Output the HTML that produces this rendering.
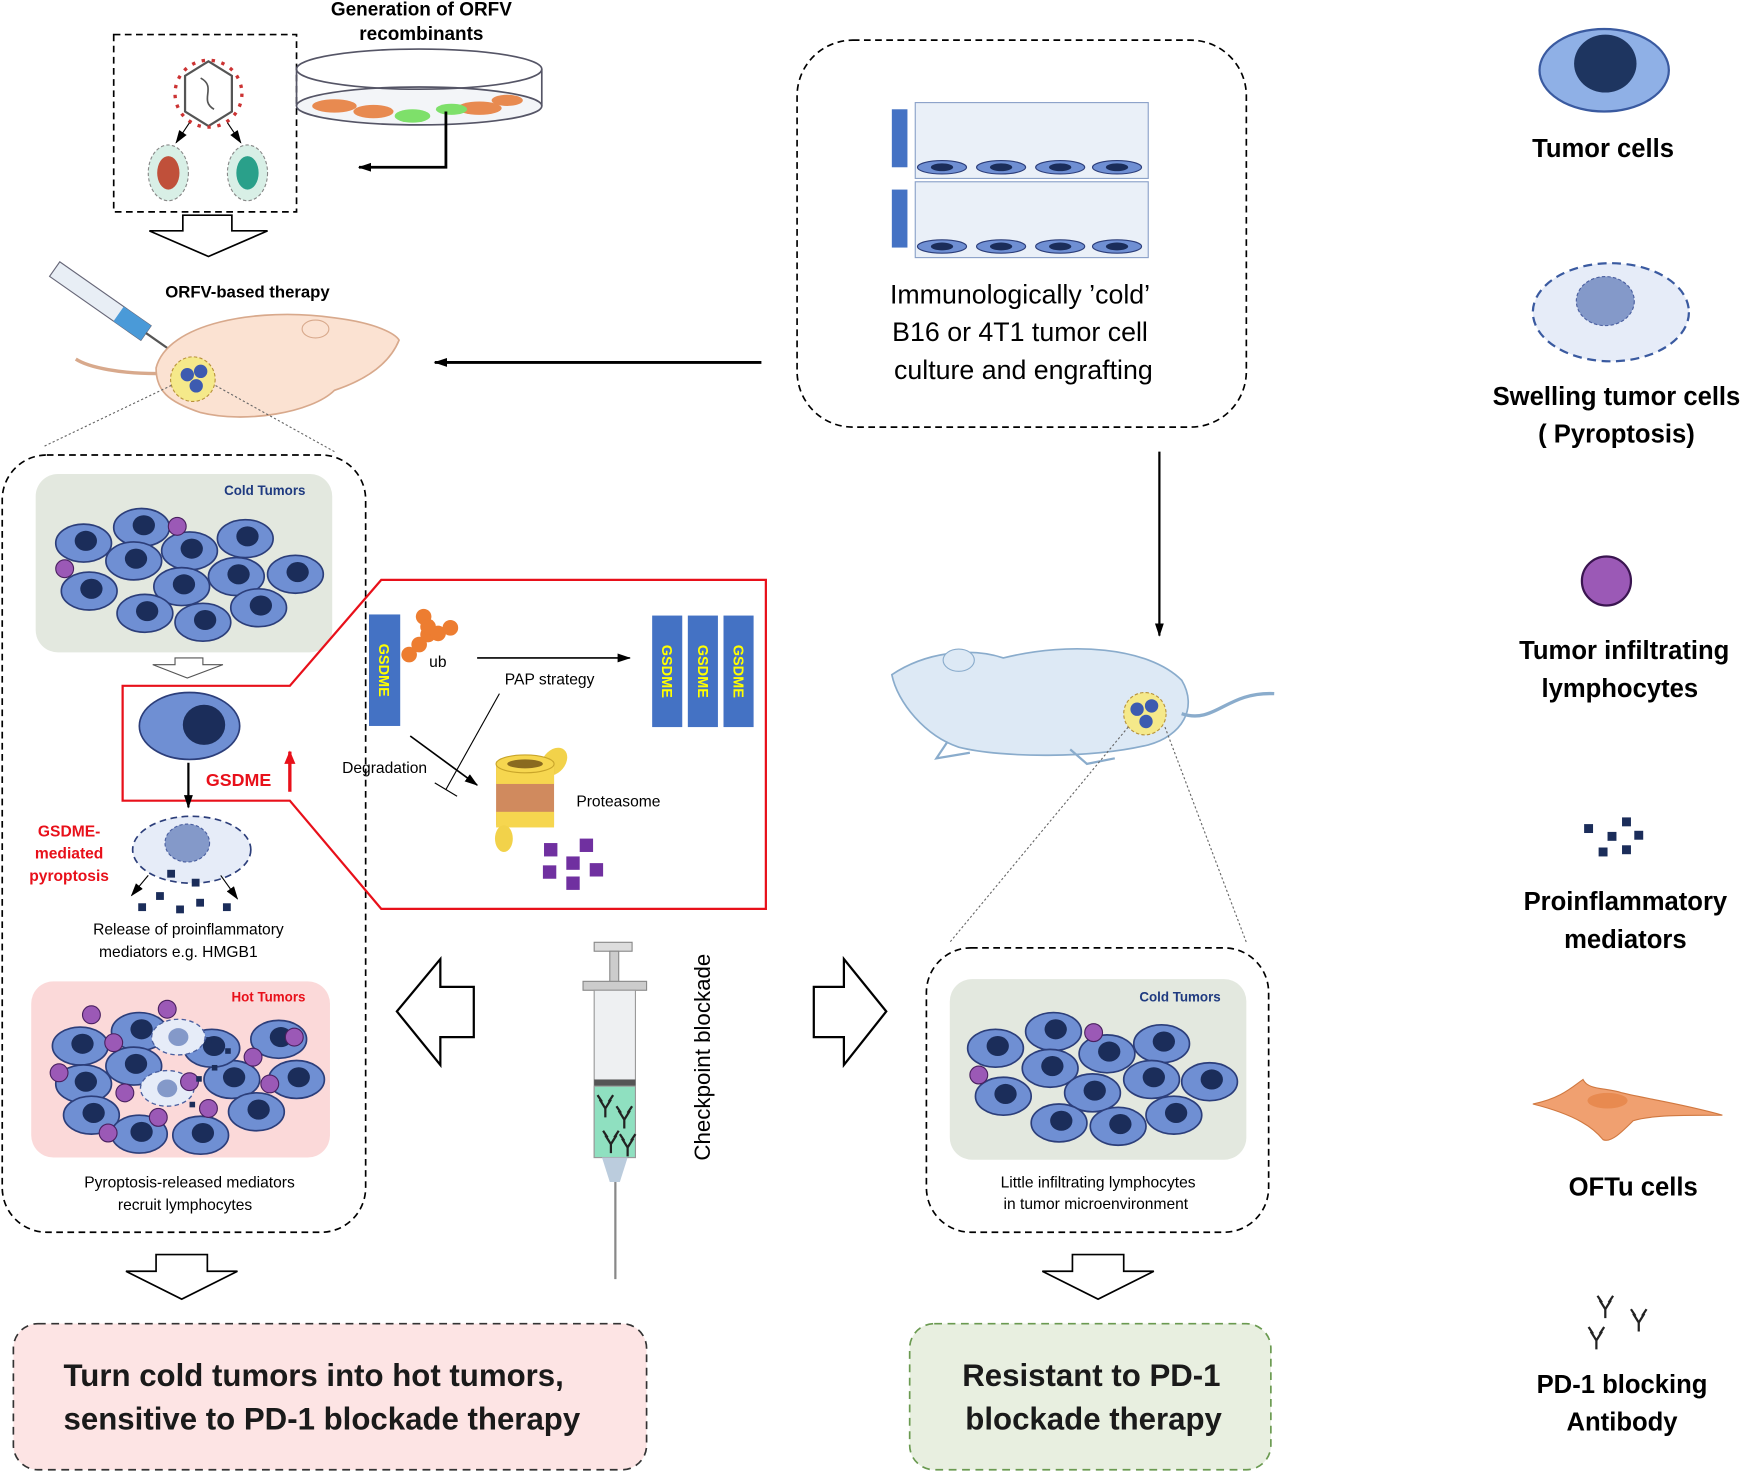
<!DOCTYPE html>
<html><head><meta charset="utf-8"><style>html,body{margin:0;padding:0;background:#fff}svg{display:block}text{font-family:"Liberation Sans",sans-serif}</style></head><body>
<svg width="1748" height="1472" viewBox="0 0 1568 1320" preserveAspectRatio="none" xmlns="http://www.w3.org/2000/svg">
<defs>
<marker id="ah" markerUnits="userSpaceOnUse" markerWidth="12" markerHeight="10" refX="11" refY="5" orient="auto"><path d="M0,1 L12,5 L0,9 z" fill="#000"/></marker>
<marker id="ahr" markerUnits="userSpaceOnUse" markerWidth="12" markerHeight="12" refX="11" refY="6" orient="auto"><path d="M0,1 L12,6 L0,11 z" fill="#e8101a"/></marker>
<g id="cell"><ellipse rx="25" ry="17" fill="#6f8fd3" stroke="#2c3e7a" stroke-width="1.5"/><ellipse cx="2" cy="-2" rx="10" ry="9" fill="#1b2d5a"/></g>
<g id="pcell"><ellipse rx="24" ry="16" fill="#e6ecf8" stroke="#4a5fa0" stroke-width="1.2" stroke-dasharray="4,3"/><ellipse rx="9" ry="8" fill="#8499c9"/></g>
<g id="ab" stroke="#222" stroke-width="2" fill="none"><path d="M0,12 L0,4 L-5,-4 M0,4 L5,-4 M-3,-2 L-7,-8 M3,-2 L7,-8"/></g>
</defs>

<rect x="102" y="31" width="164" height="159" fill="none" stroke="#000" stroke-width="1.5" stroke-dasharray="6,4"/>
<polygon points="187,55 208,68 208,100 187,113 166,100 166,68" fill="#fff" stroke="#555" stroke-width="2"/>
<circle cx="187" cy="84" r="30" fill="none" stroke="#c33" stroke-width="3" stroke-dasharray="3,6"/>
<path d="M180,70 C195,78 178,90 192,98" stroke="#555" fill="none" stroke-width="1.5"/>
<ellipse cx="151" cy="155" rx="18" ry="25" fill="#d8efe6" stroke="#888" stroke-dasharray="3,2"/>
<ellipse cx="151" cy="155" rx="10" ry="15" fill="#c0503a"/>
<ellipse cx="222" cy="155" rx="18" ry="25" fill="#d8efe6" stroke="#888" stroke-dasharray="3,2"/>
<ellipse cx="222" cy="155" rx="10" ry="15" fill="#2aa08a"/>
<line x1="170" y1="110" x2="158" y2="128" stroke="#000" marker-end="url(#ah)"/>
<line x1="204" y1="110" x2="216" y2="128" stroke="#000" marker-end="url(#ah)"/>

<text x="378" y="14" font-size="17" font-weight="bold" text-anchor="middle">Generation of ORFV</text>
<text x="378" y="36" font-size="17" font-weight="bold" text-anchor="middle">recombinants</text>
<ellipse cx="376" cy="95" rx="110" ry="17" fill="#f3f5f8" stroke="#556" stroke-width="1.5"/>
<path d="M266,62 L266,95 M486,62 L486,95" stroke="#556" stroke-width="1.5"/>
<ellipse cx="376" cy="62" rx="110" ry="18" fill="none" stroke="#556" stroke-width="1.5"/>
<g fill="#e88a50"><ellipse cx="300" cy="95" rx="20" ry="6"/><ellipse cx="335" cy="100" rx="18" ry="6"/><ellipse cx="430" cy="97" rx="20" ry="6"/><ellipse cx="455" cy="90" rx="14" ry="5"/></g>
<g fill="#7ee06a"><ellipse cx="370" cy="104" rx="16" ry="6"/><ellipse cx="405" cy="98" rx="14" ry="5"/></g>
<path d="M400,100 L400,150 L322,150" stroke="#000" stroke-width="2.5" fill="none" marker-end="url(#ah)"/>
<polygon points="134,207 164,207 164,193 208,193 208,207 240,207 187,230" fill="#fff" stroke="#000" stroke-width="1.5"/>

<text x="222" y="267" font-size="15" font-weight="bold" text-anchor="middle">ORFV-based therapy</text>
<g transform="rotate(35 90 270)"><rect x="40" y="262" width="100" height="16" fill="#e8eef5" stroke="#667"/><rect x="110" y="262" width="30" height="16" fill="#4a9ad8"/><line x1="140" y1="270" x2="170" y2="270" stroke="#555" stroke-width="2"/></g>
<path d="M140,330 C150,290 230,275 300,285 C340,290 355,300 358,305 C350,325 330,340 300,350 C280,370 220,380 180,370 C150,360 140,350 140,330 Z" fill="#fbe2d2" stroke="#d8a98c" stroke-width="1.5"/>
<path d="M140,335 C110,335 80,330 68,322" stroke="#d8a98c" stroke-width="3" fill="none"/>
<ellipse cx="283" cy="295" rx="12" ry="8" fill="#fbe2d2" stroke="#d8a98c"/>
<circle cx="173" cy="340" r="20" fill="#f5e98a" stroke="#b8923a" stroke-dasharray="3,2"/>
<g fill="#3d5bb0"><circle cx="168" cy="336" r="6"/><circle cx="180" cy="333" r="6"/><circle cx="176" cy="346" r="6"/></g>
<line x1="40" y1="400" x2="155" y2="345" stroke="#666" stroke-dasharray="2,2"/>
<line x1="300" y1="405" x2="192" y2="345" stroke="#666" stroke-dasharray="2,2"/>

<line x1="683" y1="325" x2="390" y2="325" stroke="#000" stroke-width="2.5" marker-end="url(#ah)"/>

<rect x="715" y="36" width="403" height="347" rx="50" fill="none" stroke="#000" stroke-width="1.5" stroke-dasharray="6,4"/>
<g>
<rect x="821" y="92" width="209" height="68" fill="#eaf0f8" stroke="#8aa0c8"/>
<rect x="800" y="98" width="14" height="52" fill="#4472c4"/>
<rect x="821" y="163" width="209" height="68" fill="#eaf0f8" stroke="#8aa0c8"/>
<rect x="800" y="170" width="14" height="52" fill="#4472c4"/>
<g transform="translate(845,150)"><ellipse rx="22" ry="6" fill="#6f8fd3" stroke="#2c3e7a"/><ellipse rx="10" ry="3.5" fill="#1b2d5a"/></g>
<g transform="translate(898,150)"><ellipse rx="22" ry="6" fill="#6f8fd3" stroke="#2c3e7a"/><ellipse rx="10" ry="3.5" fill="#1b2d5a"/></g>
<g transform="translate(951,150)"><ellipse rx="22" ry="6" fill="#6f8fd3" stroke="#2c3e7a"/><ellipse rx="10" ry="3.5" fill="#1b2d5a"/></g>
<g transform="translate(1002,150)"><ellipse rx="22" ry="6" fill="#6f8fd3" stroke="#2c3e7a"/><ellipse rx="10" ry="3.5" fill="#1b2d5a"/></g>
<g transform="translate(845,221)"><ellipse rx="22" ry="6" fill="#6f8fd3" stroke="#2c3e7a"/><ellipse rx="10" ry="3.5" fill="#1b2d5a"/></g>
<g transform="translate(898,221)"><ellipse rx="22" ry="6" fill="#6f8fd3" stroke="#2c3e7a"/><ellipse rx="10" ry="3.5" fill="#1b2d5a"/></g>
<g transform="translate(951,221)"><ellipse rx="22" ry="6" fill="#6f8fd3" stroke="#2c3e7a"/><ellipse rx="10" ry="3.5" fill="#1b2d5a"/></g>
<g transform="translate(1002,221)"><ellipse rx="22" ry="6" fill="#6f8fd3" stroke="#2c3e7a"/><ellipse rx="10" ry="3.5" fill="#1b2d5a"/></g>
</g>
<text font-size="24" text-anchor="middle"><tspan x="915" y="272">Immunologically ’cold’</tspan><tspan x="915" y="306">B16 or 4T1 tumor cell</tspan><tspan x="918" y="340">culture and engrafting</tspan></text>
<line x1="1040" y1="405" x2="1040" y2="570" stroke="#000" stroke-width="2" marker-end="url(#ah)"/>

<path d="M800,605 C830,585 870,580 900,590 C960,575 1030,580 1060,610 C1075,635 1060,660 1030,668 C980,680 900,680 860,670 C830,660 805,630 800,605 Z" fill="#dde9f5" stroke="#8aaccc" stroke-width="1.5"/>
<path d="M1060,640 C1090,650 1100,620 1143,622" stroke="#8aaccc" stroke-width="3" fill="none"/>
<ellipse cx="860" cy="592" rx="14" ry="10" fill="#dde9f5" stroke="#8aaccc"/>
<path d="M850,665 L840,680 L870,675 M960,672 L975,685 L1000,680" stroke="#8aaccc" stroke-width="2" fill="none"/>
<circle cx="1027" cy="640" r="19" fill="#f5e98a" stroke="#b8923a" stroke-dasharray="3,2"/>
<g fill="#3d5bb0"><circle cx="1020" cy="636" r="6"/><circle cx="1033" cy="633" r="6"/><circle cx="1028" cy="647" r="6"/></g>
<line x1="1012" y1="652" x2="852" y2="845" stroke="#666" stroke-dasharray="2,2"/>
<line x1="1045" y1="652" x2="1118" y2="845" stroke="#666" stroke-dasharray="2,2"/>

<rect x="2" y="408" width="326" height="697" rx="40" fill="none" stroke="#000" stroke-width="1.5" stroke-dasharray="6,4"/>
<rect x="32" y="425" width="266" height="160" rx="20" fill="#e3e8df"/>
<text x="274" y="444" font-size="12" font-weight="bold" fill="#1f3a80" text-anchor="end">Cold Tumors</text>
<use href="#cell" x="75" y="487"/><use href="#cell" x="127" y="473"/><use href="#cell" x="170" y="494"/><use href="#cell" x="220" y="483"/><use href="#cell" x="265" y="515"/>
<use href="#cell" x="120" y="503"/><use href="#cell" x="80" y="530"/><use href="#cell" x="163" y="526"/><use href="#cell" x="212" y="517"/>
<use href="#cell" x="130" y="550"/><use href="#cell" x="182" y="558"/><use href="#cell" x="232" y="545"/>
<circle cx="159" cy="472" r="8" fill="#9b59b6" stroke="#4a2060"/><circle cx="58" cy="510" r="8" fill="#9b59b6" stroke="#4a2060"/>
<polygon points="137,596 157,596 157,590 182,590 182,596 200,596 168,608" fill="#fff" stroke="#555"/>

<polygon points="110,615 260,615 342,520 687,520 687,815 342,815 260,718 110,718" fill="none" stroke="#e8101a" stroke-width="2"/>
<ellipse cx="170" cy="651" rx="45" ry="30" fill="#6f8fd3" stroke="#2c3e7a" stroke-width="1.5"/><ellipse cx="183" cy="650" rx="19" ry="18" fill="#1b2d5a"/>
<text x="214" y="705" font-size="16" font-weight="bold" fill="#e8101a" text-anchor="middle">GSDME</text>
<line x1="260" y1="710" x2="260" y2="674" stroke="#e8101a" stroke-width="3" marker-end="url(#ahr)"/>
<line x1="169" y1="684" x2="169" y2="724" stroke="#000" stroke-width="2" marker-end="url(#ah)"/>
<rect x="331" y="551" width="28" height="100" fill="#4472c4"/>
<text transform="translate(340,601) rotate(90)" font-size="13" font-weight="bold" fill="#ffff00" text-anchor="middle">GSDME</text>
<g fill="#ed7d31"><circle cx="367" cy="587" r="7"/><circle cx="376" cy="578" r="7"/><circle cx="384" cy="569" r="7"/><circle cx="393" cy="568" r="7"/><circle cx="404" cy="563" r="7"/><circle cx="380" cy="553" r="7"/><circle cx="384" cy="562" r="7"/></g>
<text x="385" y="598" font-size="14">ub</text>
<line x1="428" y1="590" x2="565" y2="590" stroke="#000" stroke-width="1.5" marker-end="url(#ah)"/>
<text x="493" y="614" font-size="14" text-anchor="middle">PAP strategy</text>
<line x1="448" y1="622" x2="400" y2="708" stroke="#000"/>
<line x1="390" y1="702" x2="410" y2="714" stroke="#000"/>
<line x1="368" y1="660" x2="428" y2="704" stroke="#000" stroke-width="1.5" marker-end="url(#ah)"/>
<text x="345" y="693" font-size="14" text-anchor="middle">Degradation</text>
<g><rect x="585" y="552" width="27" height="100" fill="#4472c4"/><rect x="617" y="552" width="27" height="100" fill="#4472c4"/><rect x="649" y="552" width="27" height="100" fill="#4472c4"/>
<text transform="translate(594,602) rotate(90)" font-size="13" font-weight="bold" fill="#ffff00" text-anchor="middle">GSDME</text>
<text transform="translate(626,602) rotate(90)" font-size="13" font-weight="bold" fill="#ffff00" text-anchor="middle">GSDME</text>
<text transform="translate(658,602) rotate(90)" font-size="13" font-weight="bold" fill="#ffff00" text-anchor="middle">GSDME</text></g>
<ellipse cx="497" cy="683" rx="10" ry="14" fill="#f2d24a" transform="rotate(40 497 683)"/>
<rect x="445" y="685" width="52" height="55" fill="#d08a5e"/>
<rect x="445" y="685" width="52" height="18" fill="#f6d64f"/>
<ellipse cx="471" cy="685" rx="26" ry="8" fill="#f6d64f" stroke="#c9a52a"/>
<ellipse cx="471" cy="685" rx="16" ry="4" fill="#8a6a20"/>
<rect x="445" y="728" width="52" height="14" fill="#f6d64f"/>
<ellipse cx="452" cy="752" rx="8" ry="12" fill="#f2d24a"/>
<text x="517" y="723" font-size="14">Proteasome</text>
<g fill="#7030a0"><rect x="488" y="756" width="12" height="12"/><rect x="520" y="752" width="12" height="12"/><rect x="508" y="768" width="12" height="12"/><rect x="487" y="776" width="12" height="12"/><rect x="529" y="774" width="12" height="12"/><rect x="508" y="786" width="12" height="12"/></g>

<ellipse cx="172" cy="762" rx="53" ry="30" fill="#e6ecf8" stroke="#2c3e7a" stroke-width="1.5" stroke-dasharray="6,4"/>
<ellipse cx="168" cy="756" rx="20" ry="17" fill="#8499c9" stroke="#4a5fa0" stroke-dasharray="3,2"/>
<g fill="#1b2d5a"><rect x="150" y="780" width="7" height="7"/><rect x="172" y="788" width="7" height="7"/><rect x="140" y="800" width="7" height="7"/><rect x="124" y="810" width="7" height="7"/><rect x="176" y="806" width="7" height="7"/><rect x="200" y="810" width="7" height="7"/><rect x="158" y="812" width="7" height="7"/></g>
<line x1="133" y1="785" x2="118" y2="803" stroke="#000" marker-end="url(#ah)"/>
<line x1="198" y1="785" x2="213" y2="806" stroke="#000" marker-end="url(#ah)"/>
<text font-size="14" font-weight="bold" fill="#e8101a" text-anchor="middle"><tspan x="62" y="750">GSDME-</tspan><tspan x="62" y="770">mediated</tspan><tspan x="62" y="790">pyroptosis</tspan></text>
<text font-size="14" text-anchor="middle"><tspan x="169" y="838">Release of proinflammatory</tspan><tspan x="160" y="858">mediators  e.g. HMGB1</tspan></text>

<rect x="28" y="880" width="268" height="158" rx="20" fill="#fbd9d9"/>
<text x="274" y="898" font-size="12" font-weight="bold" fill="#e8101a" text-anchor="end">Hot Tumors</text>
<use href="#cell" x="72" y="938"/><use href="#cell" x="125" y="925"/><use href="#cell" x="120" y="956"/><use href="#cell" x="75" y="972"/><use href="#cell" x="82" y="1000"/>
<use href="#cell" x="250" y="932"/><use href="#cell" x="266" y="968"/><use href="#cell" x="208" y="968"/><use href="#cell" x="230" y="997"/><use href="#cell" x="180" y="1018"/><use href="#cell" x="125" y="1017"/><use href="#cell" x="190" y="940"/>
<use href="#pcell" x="160" y="930"/><use href="#pcell" x="150" y="976"/>
<g fill="#9b59b6" stroke="#4a2060"><circle cx="82" cy="910" r="8"/><circle cx="150" cy="905" r="8"/><circle cx="102" cy="935" r="8"/><circle cx="227" cy="948" r="8"/><circle cx="264" cy="930" r="8"/><circle cx="53" cy="962" r="8"/><circle cx="112" cy="980" r="8"/><circle cx="170" cy="970" r="8"/><circle cx="242" cy="972" r="8"/><circle cx="187" cy="994" r="8"/><circle cx="142" cy="1002" r="8"/><circle cx="97" cy="1016" r="8"/></g>
<g fill="#1b2d5a"><rect x="185" y="930" width="5" height="5"/><rect x="202" y="940" width="5" height="5"/><rect x="176" y="965" width="5" height="5"/><rect x="170" y="988" width="5" height="5"/><rect x="190" y="955" width="5" height="5"/></g>
<text font-size="14" text-anchor="middle"><tspan x="170" y="1065">Pyroptosis-released mediators</tspan><tspan x="166" y="1085">recruit lymphocytes</tspan></text>

<polygon points="425,885 395,885 395,860 356,907 395,955 395,930 425,930" fill="#fff" stroke="#000" stroke-width="2"/>
<polygon points="730,885 757,885 757,860 795,907 757,955 757,930 730,930" fill="#fff" stroke="#000" stroke-width="2"/>

<rect x="533" y="845" width="34" height="8" fill="#ddd" stroke="#888"/>
<rect x="547" y="853" width="8" height="30" fill="#ccc" stroke="#888"/>
<rect x="523" y="880" width="57" height="8" fill="#ccc" stroke="#888"/>
<rect x="533" y="888" width="37" height="150" fill="#eef0f2" stroke="#999"/>
<rect x="533" y="968" width="37" height="6" fill="#555"/>
<rect x="533" y="974" width="37" height="64" fill="#8fe0c0" stroke="#999"/>
<use href="#ab" x="543" y="990"/><use href="#ab" x="560" y="1000"/><use href="#ab" x="548" y="1022"/><use href="#ab" x="563" y="1025"/>
<polygon points="540,1038 563,1038 556,1060 547,1060" fill="#bcd"/>
<line x1="552" y1="1060" x2="552" y2="1147" stroke="#888" stroke-width="2"/>
<text transform="translate(637,948) rotate(-90)" font-size="20" text-anchor="middle">Checkpoint blockade</text>

<rect x="831" y="850" width="307" height="255" rx="40" fill="none" stroke="#000" stroke-width="1.5" stroke-dasharray="6,4"/>
<rect x="852" y="878" width="266" height="162" rx="20" fill="#e3e8df"/>
<text x="1095" y="898" font-size="12" font-weight="bold" fill="#1f3a80" text-anchor="end">Cold Tumors</text>
<use href="#cell" x="893" y="940"/><use href="#cell" x="945" y="925"/><use href="#cell" x="993" y="945"/><use href="#cell" x="1042" y="936"/><use href="#cell" x="900" y="983"/>
<use href="#cell" x="942" y="958"/><use href="#cell" x="980" y="980"/><use href="#cell" x="1033" y="968"/><use href="#cell" x="1085" y="970"/>
<use href="#cell" x="950" y="1007"/><use href="#cell" x="1003" y="1010"/><use href="#cell" x="1053" y="1000"/>
<circle cx="981" cy="926" r="8" fill="#9b59b6" stroke="#4a2060"/><circle cx="878" cy="964" r="8" fill="#9b59b6" stroke="#4a2060"/>
<text font-size="14" text-anchor="middle"><tspan x="985" y="1065">Little infiltrating lymphocytes</tspan><tspan x="983" y="1084">in tumor microenvironment</tspan></text>

<polygon points="113,1140 140,1140 140,1125 186,1125 186,1140 213,1140 163,1165" fill="#fff" stroke="#000" stroke-width="1.5"/>
<polygon points="935,1140 962,1140 962,1125 1008,1125 1008,1140 1035,1140 985,1165" fill="#fff" stroke="#000" stroke-width="1.5"/>

<rect x="12" y="1187" width="568" height="131" rx="22" fill="#fde4e4" stroke="#333" stroke-width="1.5" stroke-dasharray="7,5"/>
<text font-size="28" font-weight="bold" fill="#1a1a1a"><tspan x="57" y="1243">Turn cold tumors into hot tumors,</tspan><tspan x="57" y="1282">sensitive to PD-1 blockade therapy</tspan></text>
<rect x="816" y="1187" width="324" height="131" rx="22" fill="#e8efe0" stroke="#6a9a50" stroke-width="1.5" stroke-dasharray="7,5"/>
<text font-size="28" font-weight="bold" fill="#1a1a1a" text-anchor="middle"><tspan x="979" y="1243">Resistant to PD-1</tspan><tspan x="981" y="1282">blockade therapy</tspan></text>

<ellipse cx="1439" cy="63" rx="58" ry="37" fill="#8fb0e6" stroke="#3a5aa0" stroke-width="2"/>
<ellipse cx="1440" cy="57" rx="28" ry="26" fill="#1e3560"/>
<text x="1438" y="141" font-size="23" font-weight="bold" text-anchor="middle">Tumor cells</text>
<ellipse cx="1445" cy="280" rx="70" ry="44" fill="#e6ecf8" stroke="#3a5aa0" stroke-width="2" stroke-dasharray="8,5"/>
<ellipse cx="1440" cy="270" rx="26" ry="22" fill="#8499c9" stroke="#4a5fa0" stroke-dasharray="3,2"/>
<text font-size="23" font-weight="bold" text-anchor="middle"><tspan x="1450" y="363">Swelling tumor cells</tspan><tspan x="1450" y="397">( Pyroptosis)</tspan></text>
<circle cx="1441" cy="521" r="22" fill="#9b59b6" stroke="#3a1550" stroke-width="2"/>
<text font-size="23" font-weight="bold" text-anchor="middle"><tspan x="1457" y="591">Tumor infiltrating</tspan><tspan x="1453" y="625">lymphocytes</tspan></text>
<g fill="#1b2d5a"><rect x="1421" y="739" width="8" height="8"/><rect x="1455" y="733" width="8" height="8"/><rect x="1442" y="746" width="8" height="8"/><rect x="1466" y="745" width="8" height="8"/><rect x="1434" y="760" width="8" height="8"/><rect x="1455" y="758" width="8" height="8"/></g>
<text font-size="23" font-weight="bold" text-anchor="middle"><tspan x="1458" y="816">Proinflammatory</tspan><tspan x="1458" y="850">mediators</tspan></text>
<path d="M1375,990 C1400,985 1410,975 1420,968 C1425,978 1440,975 1455,980 C1475,985 1510,990 1545,1000 C1510,1000 1480,1000 1465,1005 C1455,1015 1445,1025 1438,1022 C1430,1012 1415,1000 1375,990 Z" fill="#f0a070" stroke="#d07840"/>
<ellipse cx="1442" cy="987" rx="18" ry="7" fill="#e88a50"/>
<text x="1465" y="1072" font-size="23" font-weight="bold" text-anchor="middle">OFTu cells</text>
<use href="#ab" x="1440" y="1170"/><use href="#ab" x="1470" y="1182"/><use href="#ab" x="1432" y="1198"/>
<text font-size="23" font-weight="bold" text-anchor="middle"><tspan x="1455" y="1249">PD-1 blocking</tspan><tspan x="1455" y="1283">Antibody</tspan></text>
</svg>
</body></html>
